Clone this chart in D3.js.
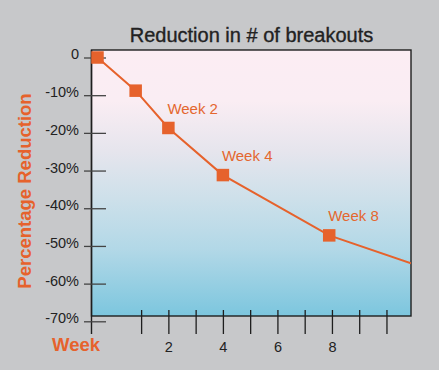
<!DOCTYPE html>
<html>
<head>
<meta charset="utf-8">
<script src="https://cdn.jsdelivr.net/npm/d3@7"></script>
<style>
  body { margin: 0; background: #c7c8ca; }
  svg { display: block; font-family: "Liberation Sans", Arial, sans-serif; }
</style>
</head>
<body>
<div id="chart"></div>
<script>
var W = 439, H = 370
var margin = {top: 50, right: 28, bottom: 54, left: 91.5}
var width = W - margin.left - margin.right,
    height = H - margin.top - margin.bottom

// data (weeks as drawn, % reduction)
var weeks = [-0.6, 0.8, 2, 4, 7.9, 10.9]
var reduction = [0, -8.8, -18.7, -31.2, -47.2, -54.6]
var marked = [true, true, true, true, true, false]
var labelIndex = [2, 3, 4]
var labelText = ["Week 2", "Week 4", "Week 8"]
var yTicks = [0, -10, -20, -30, -40, -50, -60, -70]
var xTicks = [1, 2, 3, 4, 5, 6, 7, 8, 9, 10]
var xTickLabels = [2, 4, 6, 8]

var orange = "#e6622c"

var svg = d3.select("#chart").append("svg")
    .attr("width", W)
    .attr("height", H)

var defs = svg.append("defs")
var grad = defs.append("linearGradient")
    .attr("id", "bg")
    .attr("x1", 0).attr("y1", 0).attr("x2", 0).attr("y2", 1)
var stops = [[0, "#fcedf3"], [0.19, "#faedf3"], [0.38, "#e6e5ed"], [0.56, "#cde0ea"], [0.75, "#b2d8e7"], [1, "#7cc6de"]]
stops.forEach(function(s) {
  grad.append("stop").attr("offset", s[0]).attr("stop-color", s[1])
})

var g = svg.append("g")
    .attr("transform", "translate(" + margin.left + "," + margin.top + ")")

var x = d3.scaleLinear().domain([-0.82, 10.9]).range([0, width])
var y = d3.scaleLinear().domain([0, -70]).range([7.5, 271.3])

// plot background + frame
g.append("rect")
    .attr("width", width)
    .attr("height", height)
    .attr("fill", "url(#bg)")
    .attr("stroke", "#1e1e1e")
    .attr("stroke-width", 1.4)

// left edge runs down past the frame
g.append("line")
    .attr("x1", 0).attr("x2", 0)
    .attr("y1", 0).attr("y2", height + 18)
    .attr("stroke", "#1e1e1e")
    .attr("stroke-width", 1.4)

// y axis
var yAxis = g.append("g")
    .call(d3.axisLeft(y).tickValues(yTicks).tickSize(7.5).tickPadding(5)
      .tickFormat(function(d) { return d === 0 ? "0" : d + "%" }))
yAxis.select(".domain").remove()
yAxis.selectAll("line")
    .attr("x1", 14.5)
    .attr("stroke", "#444")
    .attr("stroke-width", 1.3)
yAxis.selectAll("text")
    .attr("x", -12.5)
    .attr("dy", "0.1em")
    .attr("fill", "#222")
    .style("font-size", "14.5px")

// x axis
var xAxis = g.append("g")
    .attr("transform", "translate(0," + height + ")")
    .call(d3.axisBottom(x).tickValues(xTicks).tickSize(18).tickPadding(0)
      .tickFormat(function(d) { return xTickLabels.indexOf(d) >= 0 ? d : "" }))
xAxis.select(".domain").remove()
xAxis.selectAll("line")
    .attr("y1", -6)
    .attr("stroke", "#1e1e1e")
    .attr("stroke-width", 1.3)
xAxis.selectAll("text")
    .attr("y", 36)
    .attr("dy", 0)
    .attr("fill", "#222")
    .style("font-size", "14.5px")

// line
var pts = weeks.map(function(w, i) { return {w: w, v: reduction[i], m: marked[i]} })
var line = d3.line()
    .x(function(d) { return x(d.w) })
    .y(function(d) { return y(d.v) })

var clip = defs.append("clipPath").attr("id", "plotclip")
clip.append("rect").attr("width", width).attr("height", height)

g.append("path")
    .datum(pts)
    .attr("clip-path", "url(#plotclip)")
    .attr("fill", "none")
    .attr("stroke", orange)
    .attr("stroke-width", 2)
    .attr("d", line)

var sq = 12.5
g.selectAll(".pt")
    .data(pts.filter(function(d) { return d.m }))
    .enter().append("rect")
    .attr("class", "pt")
    .attr("x", function(d) { return x(d.w) - sq / 2 })
    .attr("y", function(d) { return y(d.v) - sq / 2 })
    .attr("width", sq)
    .attr("height", sq)
    .attr("fill", orange)

// point labels
labelIndex.forEach(function(k, i) {
  g.append("text")
      .attr("x", x(weeks[k]) - 1)
      .attr("y", y(reduction[k]) - 14)
      .attr("fill", "#e4672f")
      .style("font-size", "15px")
      .text(labelText[i])
})

// title
svg.append("text")
    .attr("x", 251.5)
    .attr("y", 41.5)
    .attr("text-anchor", "middle")
    .attr("fill", "#222")
    .attr("stroke", "#222")
    .attr("stroke-width", 0.35)
    .style("font-size", "20px")
    .text("Reduction in # of breakouts")

// axis titles
svg.append("text")
    .attr("transform", "translate(31,191) rotate(-90)")
    .attr("text-anchor", "middle")
    .attr("fill", orange)
    .style("font-size", "18.5px")
    .style("font-weight", "bold")
    .text("Percentage Reduction")

svg.append("text")
    .attr("x", 52)
    .attr("y", 350.5)
    .attr("fill", orange)
    .style("font-size", "18.5px")
    .style("font-weight", "bold")
    .text("Week")
</script>
</body>
</html>
